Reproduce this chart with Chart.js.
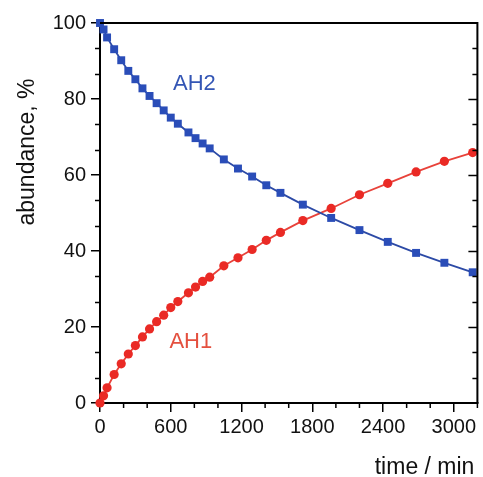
<!DOCTYPE html>
<html>
<head>
<meta charset="utf-8">
<script src="https://cdn.jsdelivr.net/npm/chart.js@4.4.1/dist/chart.umd.min.js"></script>
<style>
  html, body { margin: 0; padding: 0; background: #fff; }
</style>
</head>
<body>
<canvas id="abundanceChart" width="483" height="477"></canvas>
<script>
// sampling times (min) and abundances (%) of the two species
const timeMin = [0, 30, 60, 120, 180, 240, 300, 360, 420, 480, 540, 600, 660, 750, 810, 870, 930,
    1050, 1170, 1290, 1410, 1530, 1720, 1960, 2200, 2440, 2680, 2920, 3160];
const ah1 = [0, 1.9, 4.0, 7.5, 10.3, 12.9, 15.1, 17.4, 19.5, 21.4, 23.1, 25.1, 26.7, 29.0, 30.5, 32.0, 33.1,
    36.1, 38.2, 40.4, 42.8, 44.9, 48.0, 51.2, 54.8, 57.8, 60.8, 63.6, 65.9];
const ah2 = [100, 98.3, 96.2, 93.1, 90.2, 87.4, 85.2, 82.8, 80.8, 78.9, 77.0, 75.1, 73.5, 71.2, 69.7, 68.3, 67.0,
    64.1, 61.7, 59.6, 57.3, 55.3, 52.2, 48.7, 45.5, 42.4, 39.5, 36.9, 34.4];

const xTickValues = [0, 600, 1200, 1800, 2400, 3000];
const yTickValues = [0, 20, 40, 60, 80, 100];
const xMinorStep = 200;
const yMinorStep = 20 / 3;

const FONT = '"Liberation Sans", Arial, Helvetica, sans-serif';

const toPoints = (xs, ys) => xs.map((x, i) => ({ x: x, y: ys[i] }));

// box frame, minor ticks and right-side inward ticks
const frameTicks = {
    id: 'frameTicks',
    afterDraw(chart) {
        const { ctx, chartArea: a, scales: { x, y } } = chart;
        ctx.save();
        ctx.strokeStyle = '#000';
        ctx.lineWidth = 2;
        ctx.beginPath();
        ctx.moveTo(a.left, a.top);
        ctx.lineTo(a.right, a.top);
        ctx.lineTo(a.right, a.bottom);
        ctx.stroke();

        ctx.lineWidth = 1.5;
        ctx.beginPath();
        for (let v = 0; v <= x.max + 0.01; v += xMinorStep) {
            if (xTickValues.includes(v)) continue;
            const px = x.getPixelForValue(v);
            ctx.moveTo(px, a.bottom);
            ctx.lineTo(px, a.bottom + 5);
        }
        for (let k = 0; k * yMinorStep <= y.max + 0.01; k++) {
            const v = k * yMinorStep;
            const py = Math.round(y.getPixelForValue(v)) + 0.5;
            const major = k % 3 === 0;
            if (!major) {
                ctx.moveTo(a.left, py);
                ctx.lineTo(a.left - 5, py);
            }
            if (k > 0 && v < y.max - 0.01) {
                ctx.moveTo(a.right, py);
                ctx.lineTo(a.right - (major ? 9 : 5), py);
            }
        }
        ctx.stroke();
        ctx.restore();
    }
};

// series names and axis titles
const textLabels = {
    id: 'textLabels',
    afterDraw(chart) {
        const { ctx, chartArea: a, scales: { x, y } } = chart;
        ctx.save();
        ctx.font = '22px ' + FONT;
        ctx.textAlign = 'center';
        ctx.textBaseline = 'middle';
        ctx.fillStyle = '#3456b5';
        ctx.fillText('AH2', x.getPixelForValue(800), y.getPixelForValue(84));
        ctx.fillStyle = '#e4503f';
        ctx.fillText('AH1', x.getPixelForValue(770), y.getPixelForValue(16));

        ctx.font = '23px ' + FONT;
        ctx.fillStyle = '#111';
        ctx.textBaseline = 'alphabetic';
        ctx.textAlign = 'right';
        ctx.fillText('time / min', a.right - 3, 474);

        ctx.translate(34, 152);
        ctx.rotate(-Math.PI / 2);
        ctx.textAlign = 'center';
        ctx.fillText('abundance, %', 0, 0);
        ctx.restore();
    }
};

const ctx = document.getElementById('abundanceChart').getContext('2d');
const abundanceChart = new Chart(ctx, {
    type: 'line',
    data: {
        datasets: [{
            label: 'AH2',
            data: toPoints(timeMin, ah2),
            borderColor: '#2c4aa6',
            borderWidth: 1.8,
            backgroundColor: '#2a4db8',
            pointBackgroundColor: '#2a4db8',
            pointBorderColor: '#2a4db8',
            pointStyle: 'rect',
            pointRadius: 5.6,
            pointBorderWidth: 0,
            clip: false
        }, {
            label: 'AH1',
            data: toPoints(timeMin, ah1),
            borderColor: '#e8423a',
            borderWidth: 1.8,
            backgroundColor: '#ea2a25',
            pointBackgroundColor: '#ea2a25',
            pointBorderColor: '#ea2a25',
            pointStyle: 'circle',
            pointRadius: 4.6,
            pointBorderWidth: 0,
            clip: false
        }]
    },
    options: {
        responsive: false,
        animation: false,
        devicePixelRatio: 1,
        layout: { padding: { top: 23, right: 5, left: 0, bottom: 0 } },
        plugins: {
            legend: { display: false },
            tooltip: { enabled: false }
        },
        scales: {
            x: {
                type: 'linear',
                min: 0,
                max: 3200,
                afterBuildTicks: s => { s.ticks = xTickValues.map(v => ({ value: v })); },
                afterFit: s => { s.height = 74; },
                ticks: {
                    font: { family: FONT, size: 20 },
                    color: '#111',
                    padding: 3,
                    maxRotation: 0,
                    callback: v => String(v)
                },
                grid: { drawOnChartArea: false, drawTicks: true, tickLength: 9, color: '#000', lineWidth: 1.5 },
                border: { display: true, color: '#000', width: 2 }
            },
            y: {
                type: 'linear',
                min: 0,
                max: 100,
                afterBuildTicks: s => { s.ticks = yTickValues.map(v => ({ value: v })); },
                afterFit: s => { s.width = 100; },
                ticks: {
                    font: { family: FONT, size: 20 },
                    color: '#111',
                    padding: 5,
                    callback: v => String(v)
                },
                grid: { drawOnChartArea: false, drawTicks: true, tickLength: 9, color: '#000', lineWidth: 1.5 },
                border: { display: true, color: '#000', width: 2 }
            }
        }
    },
    plugins: [frameTicks, textLabels]
});
</script>
</body>
</html>
